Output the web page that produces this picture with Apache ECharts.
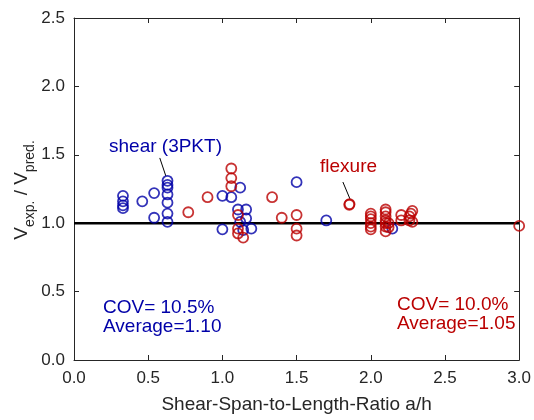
<!DOCTYPE html>
<html>
<head>
<meta charset="utf-8">
<script src="https://cdn.jsdelivr.net/npm/echarts@6/dist/echarts.min.js"></script>
<style>html,body{margin:0;padding:0;background:#fff;}#c{width:534px;height:420px;}</style>
</head>
<body>
<div id="c"></div>
<script>
// ---- data ----
var shearPoints = [
  [0.33,1.20],[0.33,1.16],[0.33,1.13],[0.33,1.11],
  [0.46,1.16],[0.54,1.22],[0.54,1.04],
  [0.63,1.31],[0.63,1.28],[0.63,1.26],[0.63,1.21],[0.63,1.15],[0.63,1.07],[0.63,1.01],
  [1.00,1.20],[1.00,0.955],[1.06,1.19],[1.12,1.26],[1.105,1.10],[1.16,1.10],
  [1.16,1.035],[1.12,1.01],[1.195,0.96],[1.14,0.95],
  [1.50,1.30],[1.70,1.02],[2.145,0.96]
];
var flexurePoints = [
  [0.77,1.08],[0.90,1.19],[1.06,1.40],[1.06,1.33],[1.06,1.27],
  [1.105,1.06],[1.105,0.96],[1.105,0.925],[1.14,0.895],
  [1.335,1.19],[1.40,1.04],[1.50,1.06],[1.50,0.96],[1.50,0.91],
  [1.857,1.14],[1.855,1.135],
  [2.00,1.07],[2.00,1.05],[2.00,1.03],[2.00,1.00],[2.00,0.975],[2.00,0.955],
  [2.10,1.10],[2.10,1.08],[2.10,1.05],[2.10,1.02],[2.10,1.00],[2.10,0.975],[2.10,0.94],
  [2.12,1.00],[2.12,0.97],
  [2.205,1.06],[2.205,1.02],[2.28,1.09],[2.27,1.07],[2.26,1.05],[2.28,1.01],[2.26,1.02],
  [3.00,0.98]
];
var referenceLine = [[0,1.0],[3.0,1.0]];
var shearPointer = [[0.578,1.477],[0.619,1.345]];
var flexurePointer = [[1.812,1.301],[1.86,1.177]];
var xTicks = ['0.0','0.5','1.0','1.5','2.0','2.5','3.0'];
var yTicks = ['0.0','0.5','1.0','1.5','2.0','2.5'];
var xTitle = 'Shear-Span-to-Length-Ratio a/h';
var shearLabel = 'shear (3PKT)';
var flexureLabel = 'flexure';
var shearStats = ['COV= 10.5%','Average=1.10'];
var flexureStats = ['COV= 10.0%','Average=1.05'];

var AX = '#262626';
var BLUE = '#0000A8';
var RED = '#BA0000';
var FONT = 'Liberation Sans, Arial, Helvetica, sans-serif';

var chart = echarts.init(document.getElementById('c'), null, {renderer:'canvas'});
function axisBase(show, pos, min, max, ticks) {
  return {
    type:'value', position: pos, min:min, max:max, interval:0.5,
    axisLine:{show:true, onZero:false, lineStyle:{color:AX, width:1}},
    axisTick:{show:true, inside:true, length:5, lineStyle:{color:AX, width:1}},
    splitLine:{show:false},
    axisLabel:{show:show, color:AX, fontSize:17, fontFamily:FONT, margin:9,
      formatter:function(v){ var i = Math.round((v-min)/0.5); return ticks[i]; }}
  };
}
var xb = axisBase(true,'bottom',0,3,xTicks);
xb.name = xTitle; xb.nameLocation='middle'; xb.nameGap=35;
xb.nameTextStyle={color:AX,fontSize:19,fontFamily:FONT};
xb.axisLabel.margin = 10;
var xt = axisBase(false,'top',0,3,xTicks);
var yl = axisBase(true,'left',0,2.5,yTicks);
var yr = axisBase(false,'right',0,2.5,yTicks);

function lineSeries(data, w) {
  return {type:'line', data:data, xAxisIndex:0, yAxisIndex:0, symbol:'none', silent:true,
    lineStyle:{color:'#000', width:w}, animation:false, z:1};
}
var TF = '19px ' + FONT;
chart.setOption({
  animation:false,
  grid:{left:74, right:14, top:18, bottom:60, containLabel:false},
  xAxis:[xb, xt],
  yAxis:[yl, yr],
  series:[
    lineSeries(referenceLine, 2.5),
    lineSeries(shearPointer, 1),
    lineSeries(flexurePointer, 1),
    {type:'scatter', data:shearPoints, symbol:'circle', symbolSize:10,
      itemStyle:{color:'rgba(0,0,0,0)', borderColor:BLUE, borderWidth:1.8}, z:3},
    {type:'scatter', data:flexurePoints, symbol:'circle', symbolSize:10,
      itemStyle:{color:'rgba(0,0,0,0)', borderColor:RED, borderWidth:1.8}, z:4}
  ],
  graphic:[
    {type:'text', x:24, y:190, rotation:Math.PI/2, z:10,
      style:{text:'{v|V}{s|exp.}{v| / V}{s|pred.}', textAlign:'center', textVerticalAlign:'middle',
        fill:AX, font:'19px '+FONT,
        rich:{v:{fontSize:19, fontFamily:FONT, fill:AX, lineHeight:26, verticalAlign:'bottom', padding:[0,0,6,0]},
              s:{fontSize:14, fontFamily:FONT, fill:AX, lineHeight:26, verticalAlign:'bottom', padding:[0,0,0,0]}}}},
    {type:'text', x:109, y:147, z:10, style:{text:shearLabel, fill:BLUE, font:TF, textVerticalAlign:'middle'}},
    {type:'text', x:320, y:167, z:10, style:{text:flexureLabel, fill:RED, font:TF, textVerticalAlign:'middle'}},
    {type:'text', x:103, y:308, z:10, style:{text:shearStats[0], fill:BLUE, font:TF, textVerticalAlign:'middle'}},
    {type:'text', x:103, y:327, z:10, style:{text:shearStats[1], fill:BLUE, font:TF, textVerticalAlign:'middle'}},
    {type:'text', x:397, y:305, z:10, style:{text:flexureStats[0], fill:RED, font:TF, textVerticalAlign:'middle'}},
    {type:'text', x:397, y:324, z:10, style:{text:flexureStats[1], fill:RED, font:TF, textVerticalAlign:'middle'}}
  ]
});
</script>
</body>
</html>
